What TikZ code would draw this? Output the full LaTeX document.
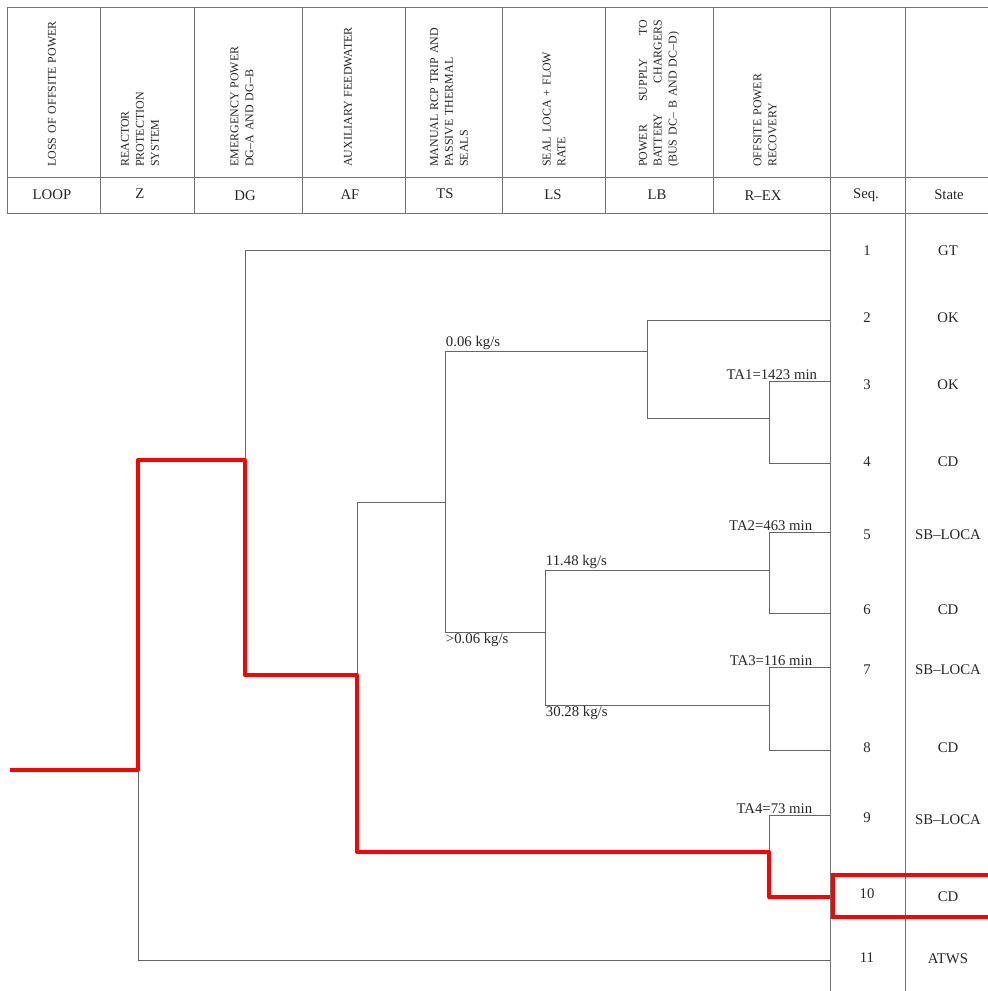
\documentclass[tikz,border=0pt]{standalone}
\usepackage{fontspec}
\setmainfont{Liberation Serif}
\usetikzlibrary{positioning}

\begin{document}
\begin{tikzpicture}[x=0.025cm,y=-0.025cm,
  every node/.style={font=\fontsize{10.5}{12}\selectfont,text=black!85},
  tabline/.style={draw=black!55,line width=.6pt},
  branch/.style={draw=black!60,line width=.6pt},
  hipath/.style={draw=red,line width=2.8pt,line join=round},
  headtxt/.style={rotate=90,anchor=west,text width=3.8cm,align=left,inner sep=0pt,font=\fontsize{8.5}{10.6}\selectfont},
  lbl/.style={inner sep=.5pt}]
\useasboundingbox (0,0) rectangle (987,991);
% table
\draw[tabline] (7,7)--(995,7);
\draw[tabline] (7,177)--(995,177);
\draw[tabline] (7,213)--(995,213);
\draw[tabline] (7,7)--(7,213);
\draw[tabline] (100,7)--(100,213);
\draw[tabline] (194,7)--(194,213);
\draw[tabline] (302,7)--(302,213);
\draw[tabline] (405,7)--(405,213);
\draw[tabline] (502,7)--(502,213);
\draw[tabline] (605,7)--(605,213);
\draw[tabline] (713,7)--(713,213);
\draw[tabline] (830,7)--(830,995);
\draw[tabline] (905,7)--(905,995);
% headings
\node[headtxt] (hLOOP) at (52,167) {LOSS OF OFFSITE POWER};
\node[headtxt] (hZ) at (140,167) {REACTOR\\PROTECTION\\SYSTEM};
\node[headtxt] (hDG) at (242,167) {EMERGENCY POWER\\DG--A AND DG--B};
\node[headtxt] (hAF) at (348,167) {AUXILIARY FEEDWATER};
\node[headtxt] (hTS) at (449,167) {MANUAL RCP TRIP AND\\PASSIVE THERMAL\\SEALS};
\node[headtxt] (hLS) at (554,167) {SEAL LOCA + FLOW\\RATE};
\node[headtxt,text width=3.68cm] (hLB) at (659,167) {POWER\hfill SUPPLY\hfill TO\\BATTERY\hfill CHARGERS\\(BUS DC-- B AND DC--D)};
\node[headtxt] (hRX) at (765,167) {OFFSITE POWER\\RECOVERY};
\node (cLOOP) at (52,195) {LOOP};
\node (cZ) at (140,194) {Z};
\node (cDG) at (245,196) {DG};
\node (cAF) at (350,195) {AF};
\node (cTS) at (445,194) {TS};
\node (cLS) at (553,195) {LS};
\node (cLB) at (657,195) {LB};
\node (cRX) at (763,196) {R--EX};
\node (cSeq) at (866,195) {Seq.};
\node (cState) at (949,195) {State};
% branch points
\coordinate (ie) at (10,770);
\coordinate (z) at (138,770);
\coordinate (zup) at (138,460);
\coordinate (zdn) at (138,960);
\coordinate (dg) at (245,460);
\coordinate (dgup) at (245,250);
\coordinate (dgdn) at (245,675);
\coordinate (af) at (357,675);
\coordinate (afup) at (357,502);
\coordinate (afdn) at (357,852);
\coordinate (ts) at (445,502);
\coordinate (tsup) at (445,351);
\coordinate (tsdn) at (445,632);
\coordinate (lb) at (647,351);
\coordinate (lbup) at (647,320);
\coordinate (lbdn) at (647,418);
\coordinate (rx1) at (769,418);
\coordinate (rx1up) at (769,381);
\coordinate (rx1dn) at (769,463);
\coordinate (ls) at (545,632);
\coordinate (lsup) at (545,570);
\coordinate (lsdn) at (545,705);
\coordinate (rx2) at (769,570);
\coordinate (rx2up) at (769,532);
\coordinate (rx2dn) at (769,613);
\coordinate (rx3) at (769,705);
\coordinate (rx3up) at (769,667);
\coordinate (rx3dn) at (769,750);
\coordinate (rx4) at (769,852);
\coordinate (rx4up) at (769,815);
\coordinate (rx4dn) at (769,897);
\coordinate (e1) at (830,250);
\coordinate (e2) at (830,320);
\coordinate (e3) at (830,381);
\coordinate (e4) at (830,463);
\coordinate (e5) at (830,532);
\coordinate (e6) at (830,613);
\coordinate (e7) at (830,667);
\coordinate (e8) at (830,750);
\coordinate (e9) at (830,815);
\coordinate (e10) at (830,897);
\coordinate (e11) at (830,960);
% tree
\draw[branch] (zup)--(zdn)--(e11);
\draw[branch] (dgup)--(dgdn);
\draw[branch] (dgup)--(e1);
\draw[branch] (afup)--(afdn);
\draw[branch] (afup)--(ts);
\draw[branch] (tsup)--(tsdn);
\draw[branch] (tsup)--(lb);
\draw[branch] (lbup)--(lbdn);
\draw[branch] (lbup)--(e2);
\draw[branch] (lbdn)--(rx1);
\draw[branch] (rx1up)--(rx1dn)--(e4);
\draw[branch] (rx1up)--(e3);
\draw[branch] (tsdn)--(ls);
\draw[branch] (lsup)--(lsdn);
\draw[branch] (lsup)--(rx2);
\draw[branch] (rx2up)--(rx2dn)--(e6);
\draw[branch] (rx2up)--(e5);
\draw[branch] (lsdn)--(rx3);
\draw[branch] (rx3up)--(rx3dn)--(e8);
\draw[branch] (rx3up)--(e7);
\draw[branch] (rx4up)--(rx4dn);
\draw[branch] (rx4up)--(e9);
\draw[hipath] (ie)--(z)--(zup)--(dg)--(dgdn)--(af)--(afdn)--(rx4)--(rx4dn)--(e10);
% labels
\node[lbl,anchor=south west] (q1) at (tsup) {0.06 kg/s};
\node[lbl,anchor=north west] (q2) at (tsdn) {>0.06 kg/s};
\node[lbl,anchor=south west] (q3) at (lsup) {11.48 kg/s};
\node[lbl,anchor=north west] (q4) at (lsdn) {30.28 kg/s};
\node[lbl,anchor=south east,xshift=-.3cm] (ta1) at (e3) {TA1=1423 min};
\node[lbl,anchor=south east,xshift=-.42cm] (ta2) at (e5) {TA2=463 min};
\node[lbl,anchor=south east,xshift=-.42cm] (ta3) at (e7) {TA3=116 min};
\node[lbl,anchor=south east,xshift=-.42cm] (ta4) at (e9) {TA4=73 min};
% sequences
\node (s1) at (867,251) {1};   \node (st1) at (948,251) {GT};
\node (s2) at (867,318) {2};   \node (st2) at (948,318) {OK};
\node (s3) at (867,385) {3};   \node (st3) at (948,385) {OK};
\node (s4) at (867,462) {4};   \node (st4) at (948,462) {CD};
\node (s5) at (867,535) {5};   \node (st5) at (948,535) {SB--LOCA};
\node (s6) at (867,610) {6};   \node (st6) at (948,610) {CD};
\node (s7) at (867,670) {7};   \node (st7) at (948,670) {SB--LOCA};
\node (s8) at (867,748) {8};   \node (st8) at (948,748) {CD};
\node (s9) at (867,818) {9};   \node (st9) at (948,820) {SB--LOCA};
\node (s10) at (867,894) {10}; \node (st10) at (948,897) {CD};
\node (s11) at (867,958) {11}; \node (st11) at (948,959) {ATWS};
\draw[draw=red,line width=3.4pt] (833,875) rectangle (1000,917);
\end{tikzpicture}
\end{document}
